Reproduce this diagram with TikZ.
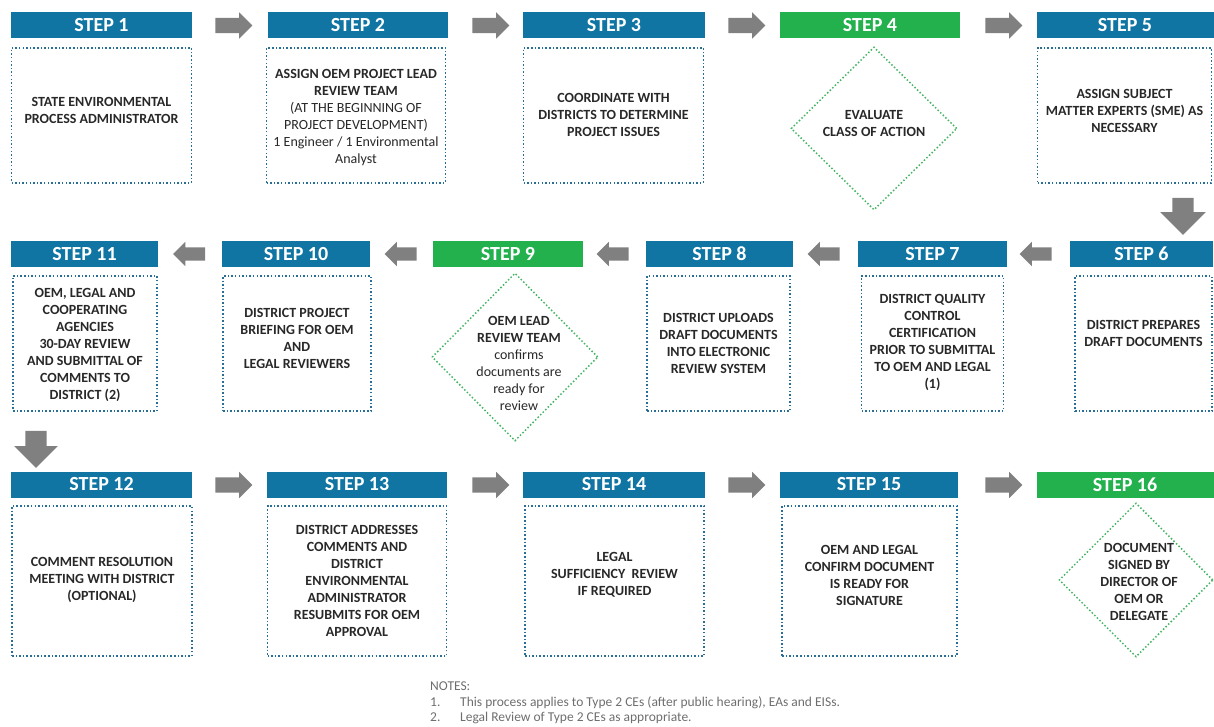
\documentclass[tikz,border=0pt]{standalone}
\usepackage{fontspec}
\setmainfont{Carlito}
\usetikzlibrary{shapes.geometric,shapes.arrows}

\definecolor{stepblue}{RGB}{16,117,163}
\definecolor{stepgreen}{RGB}{35,177,77}
\definecolor{arrowgray}{RGB}{128,128,128}
\definecolor{dotblue}{RGB}{40,110,150}
\definecolor{dotgreen}{RGB}{70,180,100}
\definecolor{textdark}{RGB}{40,40,40}
\definecolor{notegray}{RGB}{110,110,110}

\newcommand{\stepfont}{\fontsize{20}{24}\selectfont\bfseries}
\newcommand{\boxfont}{\fontsize{14}{17}\selectfont\bfseries}

\begin{document}
\begin{tikzpicture}[x=1pt,y=-1pt,
    header/.style={fill=stepblue,text=white,font=\stepfont,inner sep=0pt,minimum height=26},
    box/.style={draw=dotblue,line width=1.5pt,dash pattern=on 1.5pt off 2.1pt,inner sep=0pt},
    decision/.style={diamond,draw=dotgreen,line width=1.5pt,dash pattern=on 1.5pt off 2.1pt,inner sep=0pt},
    txt/.style={align=center,font=\boxfont,text=textdark,inner sep=0pt},
    blockarrow/.style={single arrow,fill=arrowgray,inner xsep=0pt,inner ysep=7.5pt,
      single arrow head extend=5.5pt,minimum height=37},
    note/.style={anchor=west,font=\fontsize{13.5}{15}\selectfont,text=notegray,inner sep=0pt}]

  \useasboundingbox (0,0) rectangle (1214,727);

  % step headers
  \begin{scope}[every node/.style={header}]
    \node[minimum width=181] (h1)  at (101.5,25.5) {STEP 1};
    \node[minimum width=180] (h2)  at (358,25.5)   {STEP 2};
    \node[minimum width=182] (h3)  at (614,25.5)   {STEP 3};
    \node[minimum width=180,fill=stepgreen] (h4) at (870,25.5) {STEP 4};
    \node[minimum width=177] (h5)  at (1125,25.5)  {STEP 5};

    \node[minimum width=147] (h11) at (84.5,254)   {STEP 11};
    \node[minimum width=148] (h10) at (296,254)    {STEP 10};
    \node[minimum width=150,fill=stepgreen] (h9) at (508,254) {STEP 9};
    \node[minimum width=147] (h8)  at (719.5,254)  {STEP 8};
    \node[minimum width=149] (h7)  at (932.5,254)  {STEP 7};
    \node[minimum width=143] (h6)  at (1141.5,254) {STEP 6};

    \node[minimum width=181] (h12) at (101.5,484.5) {STEP 12};
    \node[minimum width=180] (h13) at (357,484.5)   {STEP 13};
    \node[minimum width=182] (h14) at (614,484.5)   {STEP 14};
    \node[minimum width=178] (h15) at (869,484.5)   {STEP 15};
    \node[minimum width=177,fill=stepgreen] (h16) at (1125,484.5) {STEP 16};
  \end{scope}

  % dotted boxes and diamonds
  \begin{scope}[every node/.style={box}]
    \node[minimum width=180,minimum height=135] (b1)  at (101.5,115.5) {};
    \node[minimum width=179,minimum height=135] (b2)  at (356,115.5)   {};
    \node[minimum width=180,minimum height=135] (b3)  at (613.5,115.5) {};
    \node[minimum width=174,minimum height=135] (b5)  at (1124.5,115.5) {};

    \node[minimum width=144,minimum height=135] (b11) at (85,343.5)    {};
    \node[minimum width=148,minimum height=135] (b10) at (297,343.5)   {};
    \node[minimum width=143,minimum height=135] (b8)  at (718.5,343.5) {};
    \node[minimum width=142,minimum height=135] (b7)  at (932.5,343.5) {};
    \node[minimum width=137,minimum height=135] (b6)  at (1143.5,343.5) {};

    \node[minimum width=180,minimum height=150] (b12) at (102,581)     {};
    \node[minimum width=179,minimum height=150] (b13) at (357,581)     {};
    \node[minimum width=179,minimum height=150] (b14) at (614.5,581)   {};
    \node[minimum width=175,minimum height=150] (b15) at (869.5,581)   {};
  \end{scope}

  \node[decision,minimum width=166,minimum height=163] (d4)  at (874,128.5) {};
  \node[decision,minimum width=166,minimum height=168] (d9)  at (515,357)   {};
  \node[decision,minimum width=154,minimum height=154] (d16) at (1136,580)  {};

  % texts
  \begin{scope}[every node/.style={txt}]
    \node (t1)  at (101.5,110) {STATE ENVIRONMENTAL\\PROCESS ADMINISTRATOR};
    \node (t2)  at (356,117.5) {ASSIGN OEM PROJECT LEAD\\REVIEW TEAM\\{\mdseries (AT THE BEGINNING OF}\\
      {\mdseries PROJECT DEVELOPMENT)}\\{\mdseries 1 Engineer / 1 Environmental}\\{\mdseries Analyst}};
    \node (t3)  at (613.5,114.5) {COORDINATE WITH\\DISTRICTS TO DETERMINE\\PROJECT ISSUES};
    \node (t4)  at (874,124) {EVALUATE\\CLASS OF ACTION};
    \node (t5)  at (1124.5,111) {ASSIGN SUBJECT\\MATTER EXPERTS (SME) AS\\NECESSARY};

    \node (t11) at (85,345) {OEM, LEGAL AND\\COOPERATING\\AGENCIES\\30-DAY REVIEW\\AND SUBMITTAL OF\\COMMENTS TO\\DISTRICT (2)};
    \node (t10) at (297,338) {DISTRICT PROJECT\\BRIEFING FOR OEM\\AND\\LEGAL REVIEWERS};
    \node (t9)  at (519,363) {OEM LEAD\\REVIEW TEAM\\{\mdseries confirms}\\{\mdseries documents are}\\
      {\mdseries ready for}\\{\mdseries review}};
    \node (t8)  at (718.5,343) {DISTRICT UPLOADS\\DRAFT DOCUMENTS\\INTO ELECTRONIC\\REVIEW SYSTEM};
    \node (t7)  at (932.5,342) {DISTRICT QUALITY\\CONTROL\\CERTIFICATION\\PRIOR TO SUBMITTAL\\TO OEM AND LEGAL\\(1)};
    \node (t6)  at (1143.5,333) {DISTRICT PREPARES\\DRAFT DOCUMENTS};

    \node (t12) at (102,580) {COMMENT RESOLUTION\\MEETING WITH DISTRICT\\(OPTIONAL)};
    \node (t13) at (357,581) {DISTRICT ADDRESSES\\COMMENTS AND\\DISTRICT\\ENVIRONMENTAL\\ADMINISTRATOR\\RESUBMITS FOR OEM\\APPROVAL};
    \node (t14) at (614.5,575) {LEGAL\\SUFFICIENCY\ \ REVIEW\\IF REQUIRED};
    \node (t15) at (869.5,575) {OEM AND LEGAL\\CONFIRM DOCUMENT\\IS READY FOR\\SIGNATURE};
    \node (t16) at (1139,582) {DOCUMENT\\SIGNED BY\\DIRECTOR OF\\OEM OR\\DELEGATE};
  \end{scope}

  % block arrows
  \begin{scope}[every node/.style={blockarrow}]
    \node (a1)  at (230,25.5)  {};
    \node (a2)  at (487,25.5)  {};
    \node (a3)  at (743,25.5)  {};
    \node (a4)  at (1000,25.5) {};
    \node[rotate=-90,inner ysep=10.5pt,single arrow head extend=12pt] (a5) at (1183,211) {};
    \node[rotate=180,minimum height=32,inner ysep=6.5pt] (a6)  at (1039,254) {};
    \node[rotate=180,minimum height=32,inner ysep=6.5pt] (a7)  at (827,254)  {};
    \node[rotate=180,minimum height=32,inner ysep=6.5pt] (a8)  at (616,254)  {};
    \node[rotate=180,minimum height=32,inner ysep=6.5pt] (a9)  at (404,254)  {};
    \node[rotate=180,minimum height=32,inner ysep=6.5pt] (a10) at (192.5,254) {};
    \node[rotate=-90,inner ysep=10.5pt,single arrow head extend=11pt] (a11) at (36,444) {};
    \node (a12) at (230,485)  {};
    \node (a13) at (487,485)  {};
    \node (a14) at (743,485)  {};
    \node (a15) at (1000,485) {};
  \end{scope}

  % notes
  \node[note] (n0) at (430,686) {NOTES:};
  \node[note] (n1) at (430,703) {\makebox[30pt][l]{1.}This process applies to Type 2 CEs (after public hearing), EAs and EISs.};
  \node[note] (n2) at (430,718) {\makebox[30pt][l]{2.}Legal Review of Type 2 CEs as appropriate.};

\end{tikzpicture}
\end{document}
